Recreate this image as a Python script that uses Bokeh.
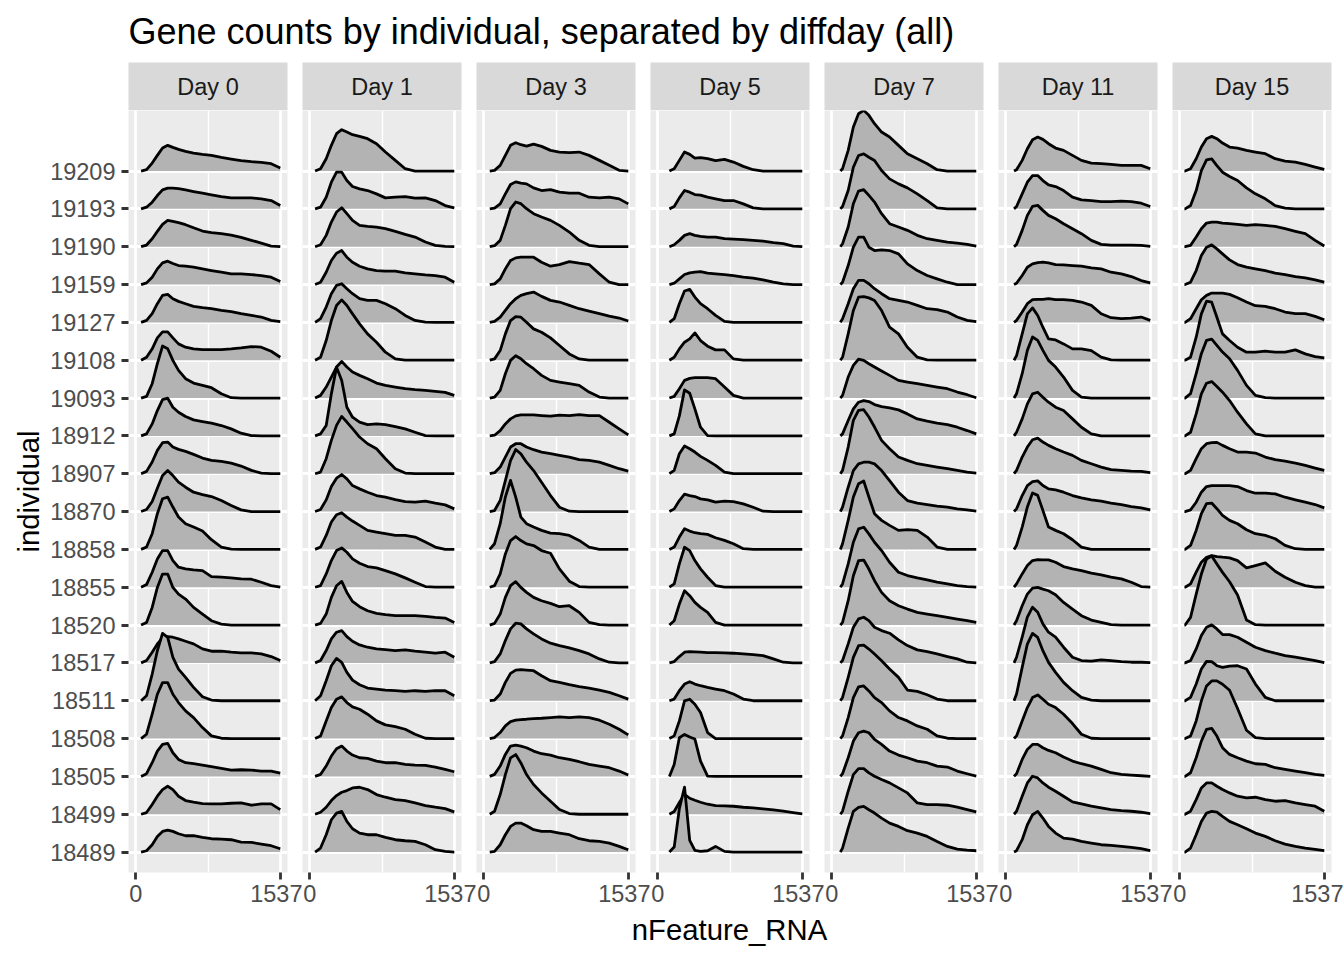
from bokeh.plotting import figure
from bokeh.models import Range1d, FixedTicker, Grid, FactorRange, Spacer
from bokeh.layouts import row, column
from bokeh.embed import file_html
from bokeh.resources import INLINE
from bokeh.core.properties import value

TITLE = "Gene counts by individual, separated by diffday (all)"
X_LABEL = "nFeature_RNA"
Y_LABEL = "individual"
DAYS = ["Day 0", "Day 1", "Day 3", "Day 5", "Day 7", "Day 11", "Day 15"]
# individuals listed from the top ridge to the bottom ridge
INDIVIDUALS = ["19209", "19193", "19190", "19159", "19127", "19108", "19093",
               "18912", "18907", "18870", "18858", "18855", "18520", "18517",
               "18511", "18508", "18505", "18499", "18489"]
X_TICKS = [0, 1537]
X_MAX = 1537
# nFeature_RNA values at which the ridge heights were read
XS = [57, 115, 175, 230, 285, 340, 395, 455, 530, 615, 710, 805, 910, 1015,
      1120, 1230, 1335, 1440, 1537]
# smallest nFeature_RNA value in each day (where the ridges begin)
DAY_START = [57, 57, 64, 124, 92, 88, 50]
# ridge heights: scaled density, HEIGHT_UNIT = one ridge spacing
HEIGHT_UNIT = 113.5

DAY0 = [
    [0, 4, 24, 47, 69, 77, 71, 65, 59, 54, 50, 47, 41, 36, 31, 28, 26, 22, 9],
    [0, 5, 20, 40, 57, 62, 62, 61, 57, 52, 47, 42, 37, 33, 33, 33, 30, 25, 10],
    [0, 5, 24, 46, 67, 79, 76, 72, 66, 57, 47, 42, 39, 35, 28, 19, 11, 2, 0],
    [0, 5, 22, 47, 65, 70, 63, 57, 55, 52, 47, 42, 37, 32, 32, 30, 27, 22, 9],
    [0, 6, 26, 56, 81, 84, 71, 63, 56, 48, 44, 41, 36, 32, 26, 21, 16, 6, 2],
    [0, 9, 34, 67, 85, 85, 67, 49, 39, 34, 32, 32, 32, 34, 37, 41, 39, 27, 9],
    [0, 5, 43, 103, 156, 148, 113, 83, 58, 45, 38, 31, 13, 1, 0, 0, 0, 0, 0],
    [0, 6, 36, 76, 109, 113, 86, 71, 58, 48, 43, 38, 31, 21, 8, 1, 0, 0, 0],
    [0, 7, 35, 70, 93, 95, 80, 73, 67, 58, 47, 40, 37, 32, 23, 10, 2, 0, 0],
    [0, 6, 30, 70, 108, 123, 108, 88, 73, 58, 51, 45, 33, 18, 5, 0, 0, 0, 0],
    [0, 7, 47, 107, 152, 157, 127, 97, 77, 67, 55, 29, 7, 1, 0, 0, 0, 0, 0],
    [0, 8, 45, 85, 110, 110, 80, 60, 55, 52, 50, 32, 30, 28, 25, 24, 15, 5, 0],
    [0, 8, 53, 113, 153, 153, 113, 93, 78, 53, 33, 13, 3, 0, 0, 0, 0, 0, 0],
    [0, 7, 32, 57, 75, 79, 77, 72, 65, 57, 42, 35, 35, 32, 30, 30, 27, 19, 7],
    [0, 15, 80, 150, 202, 190, 130, 95, 70, 40, 12, 2, 0, 0, 0, 0, 0, 0, 0],
    [0, 13, 73, 133, 168, 168, 133, 108, 83, 63, 33, 8, 1, 0, 0, 0, 0, 0, 0],
    [0, 8, 41, 76, 96, 99, 71, 51, 41, 38, 34, 29, 24, 19, 20, 19, 16, 16, 10],
    [0, 5, 29, 54, 74, 84, 74, 54, 41, 36, 32, 31, 31, 33, 34, 27, 31, 31, 14],
    [0, 4, 22, 47, 62, 66, 62, 55, 49, 49, 44, 40, 39, 37, 30, 29, 24, 19, 10],
]

DAY1 = [
    [0, 7, 37, 77, 112, 124, 117, 109, 104, 97, 82, 57, 32, 7, 0, 0, 0, 0, 0],
    [0, 5, 35, 80, 110, 110, 85, 67, 60, 55, 45, 33, 35, 37, 32, 33, 25, 10, 3],
    [0, 6, 34, 74, 104, 117, 99, 79, 64, 61, 59, 54, 46, 37, 29, 14, 4, 1, 0],
    [0, 7, 37, 72, 94, 102, 82, 67, 55, 47, 42, 40, 40, 35, 32, 29, 27, 22, 7],
    [0, 11, 46, 86, 111, 116, 101, 86, 71, 66, 66, 56, 41, 21, 6, 1, 0, 0, 0],
    [0, 9, 59, 119, 164, 181, 164, 139, 109, 79, 54, 24, 4, 0, 0, 0, 0, 0, 0],
    [0, 8, 33, 63, 93, 110, 93, 78, 68, 58, 45, 38, 33, 28, 25, 23, 20, 17, 8],
    [0, 6, 31, 126, 206, 166, 86, 56, 41, 34, 36, 34, 28, 21, 11, 1, 0, 0, 0],
    [0, 5, 45, 100, 145, 172, 155, 135, 110, 90, 75, 45, 15, 2, 0, 0, 0, 0, 0],
    [0, 6, 35, 75, 100, 111, 98, 78, 68, 58, 48, 43, 36, 30, 28, 31, 25, 20, 8],
    [0, 7, 42, 82, 104, 110, 97, 85, 72, 57, 52, 47, 42, 42, 37, 22, 7, 0, 0],
    [0, 5, 40, 80, 110, 118, 105, 85, 72, 62, 58, 50, 40, 28, 15, 2, 0, 0, 0],
    [0, 5, 33, 83, 118, 131, 98, 71, 55, 43, 35, 31, 28, 28, 28, 26, 23, 21, 8],
    [0, 7, 37, 72, 92, 97, 79, 65, 54, 47, 42, 40, 37, 39, 35, 32, 29, 32, 17],
    [0, 15, 60, 105, 127, 115, 85, 62, 48, 38, 35, 32, 30, 28, 30, 28, 30, 30, 15],
    [0, 8, 53, 93, 118, 125, 108, 95, 88, 73, 53, 41, 36, 28, 13, 1, 0, 0, 0],
    [0, 6, 31, 61, 83, 91, 76, 64, 56, 54, 46, 41, 41, 36, 34, 33, 28, 21, 14],
    [0, 6, 21, 41, 56, 66, 71, 79, 81, 74, 59, 51, 44, 41, 34, 26, 21, 17, 7],
    [0, 12, 52, 97, 117, 122, 92, 70, 57, 52, 52, 44, 37, 34, 32, 22, 7, 2, 0],
]

DAY3 = [
    [0, 2, 17, 47, 77, 85, 79, 75, 81, 74, 62, 57, 55, 57, 47, 32, 17, 2, 0],
    [0, 2, 15, 45, 73, 81, 77, 75, 63, 55, 58, 50, 47, 47, 35, 33, 35, 30, 15],
    [0, 3, 19, 64, 114, 134, 129, 114, 99, 89, 79, 64, 44, 19, 4, 0, 0, 0, 0],
    [0, 2, 17, 47, 72, 80, 82, 82, 82, 67, 55, 60, 69, 64, 60, 32, 7, 0, 0],
    [0, 3, 16, 36, 56, 71, 81, 86, 91, 78, 66, 61, 51, 41, 34, 26, 19, 13, 4],
    [0, 4, 29, 79, 119, 131, 129, 114, 94, 84, 67, 44, 19, 4, 0, 0, 0, 0, 0],
    [0, 3, 23, 73, 113, 127, 118, 103, 88, 68, 53, 48, 43, 38, 18, 3, 0, 0, 0],
    [0, 2, 16, 36, 51, 60, 63, 63, 63, 61, 59, 62, 61, 64, 61, 61, 41, 21, 3],
    [0, 3, 20, 50, 80, 90, 90, 80, 72, 65, 60, 55, 50, 42, 40, 35, 25, 15, 8],
    [0, 3, 33, 93, 153, 186, 173, 148, 123, 88, 48, 13, 1, 0, 0, 0, 0, 0, 0],
    [0, 17, 77, 157, 207, 157, 97, 77, 67, 57, 49, 47, 42, 27, 7, 0, 0, 0, 0],
    [0, 5, 40, 100, 140, 152, 140, 130, 125, 110, 102, 55, 18, 2, 0, 0, 0, 0, 0],
    [0, 5, 33, 83, 118, 130, 113, 98, 83, 73, 65, 55, 58, 38, 8, 1, 0, 0, 0],
    [0, 4, 27, 67, 102, 119, 117, 102, 87, 72, 59, 52, 45, 37, 27, 12, 2, 0, 0],
    [0, 2, 20, 55, 82, 92, 93, 92, 90, 75, 60, 55, 48, 42, 38, 32, 25, 15, 5],
    [0, 3, 18, 38, 51, 55, 57, 58, 60, 61, 63, 65, 63, 65, 63, 55, 43, 28, 11],
    [0, 6, 31, 66, 91, 94, 91, 86, 76, 68, 64, 56, 51, 44, 36, 31, 26, 16, 4],
    [0, 9, 59, 119, 169, 179, 154, 119, 89, 64, 39, 14, 2, 0, 0, 0, 0, 0, 0],
    [0, 2, 22, 52, 77, 87, 87, 79, 67, 62, 62, 57, 52, 40, 34, 32, 27, 17, 7],
]

DAY5 = [
    [0, 0, 7, 32, 57, 50, 39, 40, 37, 31, 35, 27, 14, 4, 0, 0, 0, 0, 0],
    [0, 0, 7, 33, 55, 50, 43, 41, 35, 30, 25, 25, 15, 3, 0, 0, 0, 0, 0],
    [0, 0, 6, 19, 34, 39, 34, 31, 29, 29, 24, 23, 21, 19, 17, 12, 9, 2, 0],
    [0, 0, 4, 17, 30, 35, 37, 39, 34, 32, 30, 27, 22, 19, 14, 7, 2, 0, 0],
    [0, 0, 11, 56, 94, 99, 76, 56, 41, 21, 3, 0, 0, 0, 0, 0, 0, 0, 0],
    [0, 0, 9, 34, 54, 64, 82, 59, 42, 31, 31, 4, 0, 0, 0, 0, 0, 0, 0],
    [0, 0, 5, 28, 53, 59, 61, 61, 61, 58, 33, 8, 0, 0, 0, 0, 0, 0, 0],
    [0, 0, 6, 60, 138, 128, 81, 26, 1, 0, 0, 0, 0, 0, 0, 0, 0, 0, 0],
    [0, 0, 10, 60, 83, 75, 65, 52, 40, 25, 5, 0, 0, 0, 0, 0, 0, 0, 0],
    [0, 0, 8, 33, 52, 48, 45, 38, 35, 28, 31, 30, 23, 13, 1, 0, 0, 0, 0],
    [0, 0, 7, 37, 62, 55, 50, 47, 45, 35, 27, 17, 2, 0, 0, 0, 0, 0, 0],
    [0, 0, 10, 70, 120, 110, 80, 55, 30, 5, 0, 0, 0, 0, 0, 0, 0, 0, 0],
    [0, 0, 13, 63, 103, 88, 68, 53, 38, 8, 0, 0, 0, 0, 0, 0, 0, 0, 0],
    [0, 0, 4, 19, 32, 34, 33, 32, 31, 31, 30, 29, 27, 25, 22, 12, 2, 0, 0],
    [0, 0, 5, 30, 50, 57, 50, 45, 40, 35, 30, 20, 5, 0, 0, 0, 0, 0, 0],
    [0, 0, 8, 53, 113, 118, 103, 78, 18, 0, 0, 0, 0, 0, 0, 0, 0, 0, 0],
    [0, 0, 36, 116, 126, 118, 112, 46, 1, 0, 0, 0, 0, 0, 0, 0, 0, 0, 0],
    [0, 0, 8, 35, 60, 48, 42, 36, 30, 26, 25, 24, 21, 19, 16, 13, 9, 5, 1],
    [0, 0, 15, 130, 195, 35, 5, 2, 4, 17, 2, 0, 0, 0, 0, 0, 0, 0, 0],
]

DAY7 = [
    [0, 7, 62, 132, 172, 182, 167, 142, 117, 102, 77, 52, 37, 22, 4, 0, 0, 0, 0],
    [0, 7, 55, 125, 160, 165, 155, 145, 115, 90, 75, 63, 45, 25, 3, 0, 0, 0, 0],
    [0, 9, 59, 129, 167, 171, 154, 134, 99, 69, 59, 49, 34, 24, 19, 14, 11, 7, 2],
    [0, 7, 57, 112, 142, 142, 112, 102, 104, 102, 92, 62, 42, 27, 17, 7, 0, 0, 0],
    [0, 11, 56, 101, 126, 126, 116, 101, 86, 71, 66, 61, 51, 41, 38, 31, 16, 6, 2],
    [0, 9, 79, 149, 189, 191, 187, 179, 149, 99, 79, 39, 9, 1, 0, 0, 0, 0, 0],
    [0, 8, 63, 98, 117, 113, 103, 93, 81, 68, 53, 48, 43, 38, 33, 28, 18, 10, 1],
    [0, 6, 46, 81, 101, 106, 103, 94, 88, 84, 78, 66, 51, 44, 38, 34, 26, 16, 6],
    [0, 10, 80, 160, 190, 192, 170, 140, 100, 75, 50, 40, 30, 25, 20, 15, 10, 5, 2],
    [0, 13, 73, 123, 143, 148, 148, 143, 123, 93, 58, 33, 25, 21, 16, 13, 8, 5, 1],
    [0, 17, 87, 157, 197, 205, 157, 107, 87, 72, 57, 59, 57, 37, 7, 0, 0, 0, 0],
    [0, 10, 70, 135, 175, 180, 160, 135, 110, 75, 45, 35, 28, 22, 15, 10, 5, 2, 0],
    [0, 8, 73, 148, 193, 195, 168, 133, 98, 73, 58, 48, 38, 33, 28, 23, 18, 13, 8],
    [0, 7, 57, 107, 132, 137, 127, 107, 97, 89, 69, 52, 39, 34, 27, 19, 12, 2, 0],
    [0, 10, 70, 130, 165, 167, 155, 140, 120, 95, 70, 32, 28, 18, 5, 0, 0, 0, 0],
    [0, 8, 63, 123, 155, 158, 143, 123, 108, 83, 63, 53, 38, 28, 8, 1, 0, 0, 0],
    [0, 8, 56, 106, 131, 136, 131, 111, 96, 76, 64, 56, 46, 41, 31, 28, 16, 8, 1],
    [0, 9, 69, 119, 137, 137, 124, 114, 104, 94, 79, 64, 34, 29, 29, 27, 21, 14, 7],
    [0, 12, 72, 122, 134, 137, 127, 117, 102, 87, 77, 64, 57, 47, 32, 17, 9, 6, 4],
]

DAY11 = [
    [0, 4, 32, 67, 94, 102, 95, 82, 69, 62, 47, 32, 24, 22, 20, 17, 17, 17, 7],
    [0, 7, 45, 80, 100, 100, 85, 72, 67, 55, 35, 27, 25, 22, 22, 23, 22, 17, 7],
    [0, 7, 49, 94, 121, 124, 109, 94, 84, 69, 54, 39, 19, 7, 5, 5, 5, 4, 1],
    [0, 4, 27, 52, 62, 66, 67, 65, 60, 59, 57, 55, 50, 47, 37, 32, 24, 12, 5],
    [0, 6, 31, 56, 68, 69, 69, 71, 68, 68, 66, 61, 51, 26, 14, 11, 13, 16, 6],
    [0, 14, 79, 139, 157, 134, 99, 64, 61, 49, 34, 34, 29, 9, 1, 0, 0, 0, 0],
    [0, 13, 73, 143, 183, 173, 143, 113, 93, 63, 23, 3, 0, 0, 0, 0, 0, 0, 0],
    [0, 11, 51, 96, 126, 131, 116, 101, 86, 76, 51, 26, 6, 0, 0, 0, 0, 0, 0],
    [0, 10, 50, 80, 102, 107, 95, 85, 75, 65, 55, 40, 30, 20, 12, 10, 8, 7, 3],
    [0, 8, 48, 78, 90, 92, 78, 68, 65, 58, 48, 41, 35, 31, 25, 21, 15, 11, 5],
    [0, 12, 67, 127, 169, 162, 117, 67, 57, 47, 29, 7, 0, 0, 0, 0, 0, 0, 0],
    [0, 10, 40, 65, 80, 83, 82, 82, 75, 62, 55, 50, 42, 37, 30, 25, 15, 2, 0],
    [0, 13, 58, 93, 111, 113, 108, 103, 91, 68, 48, 28, 15, 8, 1, 0, 0, 0, 0],
    [0, 17, 77, 137, 167, 152, 117, 92, 77, 47, 17, 7, 5, 9, 7, 4, 2, 2, 1],
    [0, 20, 100, 170, 202, 190, 150, 115, 85, 55, 30, 10, 2, 0, 0, 0, 0, 0, 0],
    [0, 8, 53, 93, 123, 131, 118, 103, 93, 73, 45, 13, 1, 0, 0, 0, 0, 0, 0],
    [0, 8, 51, 81, 96, 96, 86, 78, 71, 58, 46, 38, 31, 21, 11, 6, 4, 2, 0],
    [0, 9, 54, 94, 114, 109, 94, 81, 69, 54, 37, 31, 24, 19, 14, 11, 9, 6, 2],
    [0, 4, 37, 82, 112, 122, 102, 77, 57, 42, 39, 32, 27, 22, 20, 17, 14, 10, 4],
]

DAY15 = [
    [0, 7, 37, 72, 97, 104, 97, 84, 72, 69, 62, 57, 52, 37, 30, 27, 20, 12, 5],
    [0, 10, 55, 115, 147, 150, 130, 110, 97, 85, 63, 45, 30, 10, 2, 0, 0, 0, 0],
    [0, 4, 29, 54, 71, 74, 74, 71, 69, 67, 64, 66, 64, 61, 54, 46, 39, 19, 2],
    [0, 7, 42, 87, 112, 119, 107, 92, 74, 60, 52, 47, 42, 34, 30, 24, 20, 14, 7],
    [0, 11, 41, 68, 81, 88, 88, 88, 84, 74, 61, 50, 48, 41, 31, 26, 26, 18, 8],
    [0, 9, 69, 139, 177, 174, 129, 79, 59, 39, 24, 24, 27, 24, 24, 31, 19, 11, 7],
    [0, 13, 73, 133, 173, 177, 158, 138, 118, 83, 38, 8, 1, 0, 0, 0, 0, 0, 0],
    [0, 11, 66, 126, 158, 163, 148, 131, 106, 71, 36, 6, 0, 0, 0, 0, 0, 0, 0],
    [0, 10, 45, 75, 90, 93, 94, 85, 75, 65, 65, 62, 50, 42, 38, 32, 25, 17, 10],
    [0, 5, 28, 58, 75, 78, 78, 78, 78, 75, 63, 55, 55, 53, 43, 35, 28, 21, 11],
    [0, 12, 57, 107, 137, 139, 122, 102, 87, 77, 59, 47, 42, 32, 12, 2, 0, 0, 0],
    [0, 10, 45, 75, 90, 95, 92, 90, 88, 80, 58, 65, 73, 48, 30, 15, 5, 0, 0],
    [0, 23, 93, 153, 198, 207, 183, 158, 130, 90, 15, 1, 0, 0, 0, 0, 0, 0, 0],
    [0, 7, 42, 82, 107, 114, 102, 85, 85, 77, 62, 47, 37, 29, 22, 17, 12, 7, 1],
    [0, 10, 50, 95, 118, 117, 105, 100, 104, 105, 95, 50, 10, 0, 0, 0, 0, 0, 0],
    [0, 8, 53, 113, 158, 173, 173, 163, 145, 90, 25, 3, 0, 0, 0, 0, 0, 0, 0],
    [0, 11, 56, 106, 141, 144, 121, 86, 66, 56, 46, 38, 36, 26, 21, 16, 11, 6, 3],
    [0, 9, 44, 79, 94, 94, 84, 74, 64, 54, 49, 51, 44, 39, 41, 34, 29, 24, 9],
    [0, 12, 52, 92, 117, 122, 120, 107, 92, 82, 70, 57, 47, 34, 24, 17, 12, 8, 4],
]

DAY_DATA = [DAY0, DAY1, DAY3, DAY5, DAY7, DAY11, DAY15]

# ---------------------------------------------------------------- styling
FONT = "Liberation Sans"
PANEL_BG = "#EBEBEB"
STRIP_BG = "#D9D9D9"
RIDGE_FILL = "#B3B3B3"
TICK_COLOR = "#333333"
LABEL_COLOR = "#4D4D4D"
PANEL_W, PANEL_H, STRIP_H = 159, 762, 48
GAP = 15
LEFT_W = 128
RIGHT_LAST = 12
N = len(INDIVIDUALS)
POS = [N - i for i in range(N)]


def hide_default_grids(fig):
    for g in fig.xgrid + fig.ygrid:
        g.grid_line_color = None


def style_axis(ax):
    ax.axis_line_color = None
    ax.major_tick_line_color = TICK_COLOR
    ax.major_tick_line_width = 2.8
    ax.major_tick_out = 7
    ax.major_tick_in = 0
    ax.minor_tick_line_color = None
    ax.major_label_text_color = LABEL_COLOR
    ax.major_label_text_font = FONT
    ax.major_label_text_font_size = "23.5px"


def make_panel(d):
    first, last = d == 0, d == len(DAYS) - 1
    p = figure(frame_width=PANEL_W, frame_height=PANEL_H,
               x_range=Range1d(-0.05 * X_MAX, 1.05 * X_MAX),
               y_range=Range1d(0.46, N + 1.6),
               toolbar_location=None, output_backend="svg",
               y_axis_location="left" if first else None,
               min_border_left=LEFT_W if first else 0,
               min_border_right=RIGHT_LAST if last else GAP,
               min_border_top=0, min_border_bottom=40,
               background_fill_color=PANEL_BG, border_fill_color="white",
               outline_line_color=None)
    hide_default_grids(p)
    xa = p.xaxis[0]
    xa.ticker = FixedTicker(ticks=X_TICKS, minor_ticks=[])
    style_axis(xa)
    xa.major_label_standoff = 5
    p.xgrid.ticker = FixedTicker(ticks=X_TICKS, minor_ticks=[X_MAX / 2])
    p.xgrid.grid_line_color = "white"
    p.xgrid.grid_line_width = 2.8
    p.xgrid.minor_grid_line_color = "white"
    p.xgrid.minor_grid_line_width = 1.4
    if first:
        ya = p.yaxis[0]
        ya.ticker = FixedTicker(ticks=POS, minor_ticks=[])
        ya.major_label_overrides = {pos: name for pos, name in zip(POS, INDIVIDUALS)}
        style_axis(ya)
        ya.major_label_standoff = 6
        ya.axis_label = Y_LABEL
        ya.axis_label_text_font = FONT
        ya.axis_label_text_font_size = "29.3px"
        ya.axis_label_text_font_style = "normal"
        ya.axis_label_text_color = "black"
        ya.axis_label_standoff = 2
        p.ygrid.ticker = FixedTicker(ticks=POS, minor_ticks=[])
        p.ygrid.grid_line_color = "white"
        p.ygrid.grid_line_width = 2.8
    else:
        g = Grid(dimension=1, ticker=FixedTicker(ticks=POS, minor_ticks=[]),
                 grid_line_color="white", grid_line_width=2.8)
        p.add_layout(g, "center")

    start = DAY_START[d]
    for i, name in enumerate(INDIVIDUALS):
        base = POS[i]
        hs = DAY_DATA[d][i]
        xs = [start] + [x for x in XS if x > start]
        ys = [base] + [base + h / HEIGHT_UNIT for x, h in zip(XS, hs) if x > start]
        p.varea(x=xs, y1=[base] * len(xs), y2=ys, fill_color=RIDGE_FILL)
        p.line(x=xs, y=ys, line_color="black", line_width=2.8, line_join="round")
    return p


def make_strip(d):
    first, last = d == 0, d == len(DAYS) - 1
    s = figure(frame_width=PANEL_W, frame_height=STRIP_H,
               x_range=FactorRange(DAYS[d]), y_range=FactorRange(DAYS[d]),
               toolbar_location=None, output_backend="svg",
               x_axis_location=None, y_axis_location=None,
               min_border_left=LEFT_W if first else 0,
               min_border_right=RIGHT_LAST if last else GAP,
               min_border_top=0, min_border_bottom=0,
               background_fill_color=STRIP_BG, border_fill_color="white",
               outline_line_color=None)
    hide_default_grids(s)
    s.text(x=[DAYS[d]], y=[DAYS[d]], text=[DAYS[d]], text_align="center",
           text_baseline="middle", text_color="#1A1A1A",
           text_font=value(FONT), text_font_size=value("23.5px"))
    return s


total_w = LEFT_W + len(DAYS) * PANEL_W + (len(DAYS) - 1) * GAP + RIGHT_LAST

header = figure(width=total_w, height=54, title=TITLE,
                toolbar_location=None, output_backend="svg",
                x_axis_location=None, y_axis_location=None,
                min_border_left=LEFT_W, min_border_right=0,
                min_border_top=0, min_border_bottom=0,
                outline_line_color=None, background_fill_color="white")
hide_default_grids(header)
header.title.text_font = FONT
header.title.text_font_size = "36px"
header.title.text_font_style = "normal"
header.title.text_color = "black"
header.title.align = "left"
header.title.offset = 0
header.title.standoff = 0

footer = figure(frame_width=total_w - LEFT_W - RIGHT_LAST - 1, frame_height=34,
                x_range=FactorRange(X_LABEL), y_range=FactorRange(X_LABEL),
                toolbar_location=None, output_backend="svg",
                x_axis_location=None, y_axis_location=None,
                min_border_left=LEFT_W, min_border_right=RIGHT_LAST,
                min_border_top=0, min_border_bottom=6,
                outline_line_color=None, background_fill_color="white")
hide_default_grids(footer)
footer.text(x=[X_LABEL], y=[X_LABEL], text=[X_LABEL], text_align="center",
            text_baseline="middle", text_color="black",
            text_font=value(FONT), text_font_size=value("29.3px"))

strips = row([make_strip(d) for d in range(len(DAYS))])
panels = row([make_panel(d) for d in range(len(DAYS))])
layout = column(Spacer(width=total_w, height=8), header, strips, panels, footer)

open("out.html", "w").write(file_html(layout, INLINE))
